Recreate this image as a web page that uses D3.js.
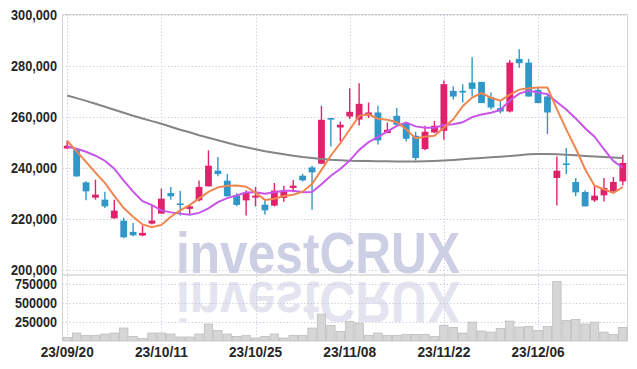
<!DOCTYPE html>
<html><head><meta charset="utf-8">
<script src="https://cdn.jsdelivr.net/npm/d3@7"></script>
<style>
html,body{margin:0;padding:0;background:#fff;}
svg{display:block;}
</style></head>
<body><svg id="c" width="637" height="369"></svg>
<script>
const dates = ["23/09/20","23/09/21","23/09/22","23/09/25","23/09/26","23/09/27","23/10/04","23/10/05","23/10/06","23/10/10",
"23/10/11","23/10/12","23/10/13","23/10/16","23/10/17","23/10/18","23/10/19","23/10/20","23/10/23","23/10/24",
"23/10/25","23/10/26","23/10/27","23/10/30","23/10/31","23/11/01","23/11/02","23/11/03","23/11/06","23/11/07",
"23/11/08","23/11/09","23/11/10","23/11/13","23/11/14","23/11/15","23/11/16","23/11/17","23/11/20","23/11/21",
"23/11/22","23/11/23","23/11/24","23/11/27","23/11/28","23/11/29","23/11/30","23/12/01","23/12/04","23/12/05",
"23/12/06","23/12/07","23/12/08","23/12/11","23/12/12","23/12/13","23/12/14","23/12/15","23/12/18","23/12/19"];
const tickLabels = ["23/09/20","23/10/11","23/10/25","23/11/08","23/11/22","23/12/06"];
const priceTicks = [200000,220000,240000,260000,280000,300000];
const volumeTicks = [250000,500000,750000];

const open  = [247475,247240,234170,228180,227400,220080,219180,214750,213310,218000,
221920,230020,225900,223760,227120,232600,238750,234830,229080,227120,
228180,225440,225050,228060,231980,236790,240040,241490,259400,255700,
260000,258800,260390,261580,253500,260270,257420,252450,247240,253740,
254400,270060,270060,273310,273580,267600,263290,261960,282580,281130,
270450,267830,235890,241600,234320,230410,227120,229080,230650,234560];
const high  = [250600,247500,234560,235230,230530,227400,220300,218280,217220,225050,
231700,232370,230920,225440,234950,246700,244110,237450,229860,231040,
232370,227400,233930,232880,235100,237500,240700,264190,259400,258040,
271100,273070,265480,264190,257650,263290,257420,254000,256360,258200,
274100,271740,272680,283230,273580,269400,266000,282190,286380,282600,
271500,269000,244340,247630,235900,231000,232600,235890,236280,245010];
const low   = [247300,236300,227120,227400,224150,219900,212400,213030,213030,217600,
221920,227400,221140,221530,226730,232600,236520,228690,224770,221140,
224770,221530,224770,226600,230250,234500,223480,241490,248250,250220,
259000,256500,259400,249000,253500,256750,250220,242780,246800,253500,
250880,266700,265480,267830,265250,262700,261200,261600,279100,267830,
265250,253110,225050,237450,228700,224770,226500,226700,230000,233000];
const close = [248530,236520,230650,229360,224770,223090,212640,213420,214360,219180,
227790,228690,225750,224780,232370,240700,237450,228690,225330,230250,
228960,223210,230920,230650,232880,234950,238080,258710,259000,256750,
261840,264970,261580,250610,254790,256750,251270,243720,254010,256360,
272680,267830,269400,270840,265250,263520,261960,281130,280900,267830,
265250,261570,238750,241370,230250,224770,228960,231980,234320,241760];
const volume = [48000,105000,75000,75000,92000,105000,171000,61000,35000,105000,
105000,92000,53000,53000,92000,224000,140000,92000,61000,75000,
39000,61000,92000,39000,75000,75000,171000,355000,206000,127000,
259000,237000,75000,105000,75000,75000,88000,88000,88000,61000,
206000,180000,105000,250000,132000,118000,167000,263000,184000,193000,
140000,193000,785000,272000,285000,224000,250000,118000,88000,180000];
const ma5 = [250500,246300,242200,238000,233970,228880,224100,220660,217660,216540,
217480,220690,223150,225240,227880,230460,232210,232800,232910,232480,
230140,227290,227730,228800,229320,230520,233500,239050,244720,249500,
254880,260250,260830,259150,258760,257740,255000,251430,252110,252420,
255610,258920,264060,267420,269200,267370,266190,268540,270550,271070,
271410,271340,262860,254950,247440,239340,232820,231470,230060,232360];
const ma10 = [248260,247360,246180,244620,242660,239530,234830,230530,226810,225250,
223180,222400,221910,221450,222210,223970,226450,227980,229070,230180,
230300,229750,230270,230850,230900,230330,230390,233390,236760,239410,
242700,246880,249940,251940,254130,256310,257630,256130,255630,255590,
256670,256960,257740,259770,260810,261490,262560,266300,268990,270130,
269390,268770,265700,262750,259250,255380,252080,247160,242540,239930];
const ma60 = [268220,267200,266140,264970,263800,262620,261450,260270,259220,258200,
257140,255970,254790,253820,252640,251660,250680,249710,248730,247950,
247160,246380,245790,245210,244620,244110,243720,243370,243050,242860,
242660,242580,242510,242470,242430,242390,242390,242390,242470,242580,
242740,242970,243250,243520,243760,243990,244230,244500,244810,245170,
245280,245280,245210,245010,244780,244540,244310,244110,243910,243720];

const svg = d3.select("#c");
const L = 62.5, R = 627.5, T = 14.5, PB = 275, VB = 341;
const font = "'Liberation Sans',Arial,sans-serif";

const x = d3.scaleBand().domain(dates).range([L, R]).padding(0);
const cx = d => x(d) + x.bandwidth() / 2;
const y = d3.scaleLinear().domain([200000, 300000]).range([269.5, T]);
const yv = d3.scaleLinear().domain([0, 750000]).range([VB, 284.3]);

// watermark
const wm = svg.append("g");
wm.append("text").attr("x",176).attr("y",273).attr("textLength",284).attr("lengthAdjust","spacingAndGlyphs")
  .attr("font-family",font).attr("font-weight","bold").attr("font-size",57)
  .attr("fill","#cdd0e5").text("investCRUX");
const defs = svg.append("defs");
defs.append("clipPath").attr("id","rc").append("rect").attr("x",0).attr("y",278).attr("width",637).attr("height",44);
wm.append("g").attr("clip-path","url(#rc)").append("text")
  .attr("x",176).attr("y",273).attr("textLength",284).attr("lengthAdjust","spacingAndGlyphs")
  .attr("font-family",font).attr("font-weight","bold").attr("font-size",57)
  .attr("transform","translate(0,555) scale(1,-1)")
  .attr("fill","#e3e4ef").text("investCRUX");

// gridlines
const grid = svg.append("g").attr("stroke","#c6c9dc").attr("stroke-dasharray","1.2,2.2").attr("stroke-width",1);
priceTicks.forEach(t => grid.append("line").attr("x1",L).attr("x2",R).attr("y1",Math.round(y(t))+0.5).attr("y2",Math.round(y(t))+0.5));
volumeTicks.forEach(t => grid.append("line").attr("x1",L).attr("x2",R).attr("y1",Math.round(yv(t))+0.5).attr("y2",Math.round(yv(t))+0.5));
tickLabels.forEach(t => grid.append("line").attr("x1",Math.round(cx(t))+0.5).attr("x2",Math.round(cx(t))+0.5).attr("y1",T).attr("y2",VB));

// borders
const bd = svg.append("g").attr("stroke","#d2d2d2").attr("stroke-width",1).attr("fill","none");
bd.append("line").attr("x1",L).attr("x2",R).attr("y1",T).attr("y2",T);
bd.append("line").attr("x1",L).attr("x2",R).attr("y1",PB).attr("y2",PB).attr("stroke","#c4c4c4");
bd.append("line").attr("x1",L).attr("x2",L).attr("y1",T).attr("y2",VB);
bd.append("line").attr("x1",R).attr("x2",R).attr("y1",T).attr("y2",VB);

// volume bars
svg.append("g").selectAll("rect").data(volume).join("rect")
  .attr("x",(v,i)=>x(dates[i])+0.5).attr("width",x.bandwidth()-1)
  .attr("y",v=>yv(v)).attr("height",v=>VB-yv(v))
  .attr("fill","#d6d6d6").attr("stroke","#bdbdbd").attr("stroke-width",0.8);

// candles
const up = "#e2216c", down = "#3197c9";
const cg = svg.append("g");
dates.forEach((d,i) => {
  const col = close[i] >= open[i] ? up : down;
  const g = cg.append("g");
  g.append("line").attr("x1",cx(d)).attr("x2",cx(d)).attr("y1",y(high[i])).attr("y2",y(low[i]))
    .attr("stroke",col).attr("stroke-width",1.4);
  const top = y(Math.max(open[i],close[i])), bot = y(Math.min(open[i],close[i]));
  g.append("rect").attr("x",cx(d)-3.4).attr("width",6.8).attr("y",top).attr("height",Math.max(1.6,bot-top)).attr("fill",col);
});

// moving averages
const line = arr => d3.line().x((v,i)=>cx(dates[i])).y(v=>y(v))(arr);
svg.append("path").attr("d",line(ma60)).attr("fill","none").attr("stroke","#858585").attr("stroke-width",2);
svg.append("path").attr("d",line(ma10)).attr("fill","none").attr("stroke","#c854e8").attr("stroke-width",2);
svg.append("path").attr("d",line(ma5)).attr("fill","none").attr("stroke","#ef8650").attr("stroke-width",2);

// axes labels
const yAx = svg.append("g").attr("transform",`translate(57,0)`)
  .call(d3.axisLeft(y).tickValues(priceTicks).tickFormat(d3.format(",")).tickSize(0).tickPadding(0));
const vAx = svg.append("g").attr("transform",`translate(57,0)`)
  .call(d3.axisLeft(yv).tickValues(volumeTicks).tickFormat(d=>String(d)).tickSize(0).tickPadding(0));
const xAx = svg.append("g").attr("transform",`translate(0,${VB+4})`)
  .call(d3.axisBottom(x).tickValues(tickLabels).tickSize(0).tickPadding(2));
[yAx,vAx,xAx].forEach(a => {
  a.select(".domain").remove();
  a.selectAll("text").attr("font-family",font).attr("font-weight","bold").attr("font-size",14.5).attr("fill","#262626")
    .attr("lengthAdjust","spacingAndGlyphs");
});
yAx.selectAll("text").attr("textLength",46);
vAx.selectAll("text").attr("textLength",42);
xAx.selectAll("text").attr("textLength",53);
</script>
</body></html>
